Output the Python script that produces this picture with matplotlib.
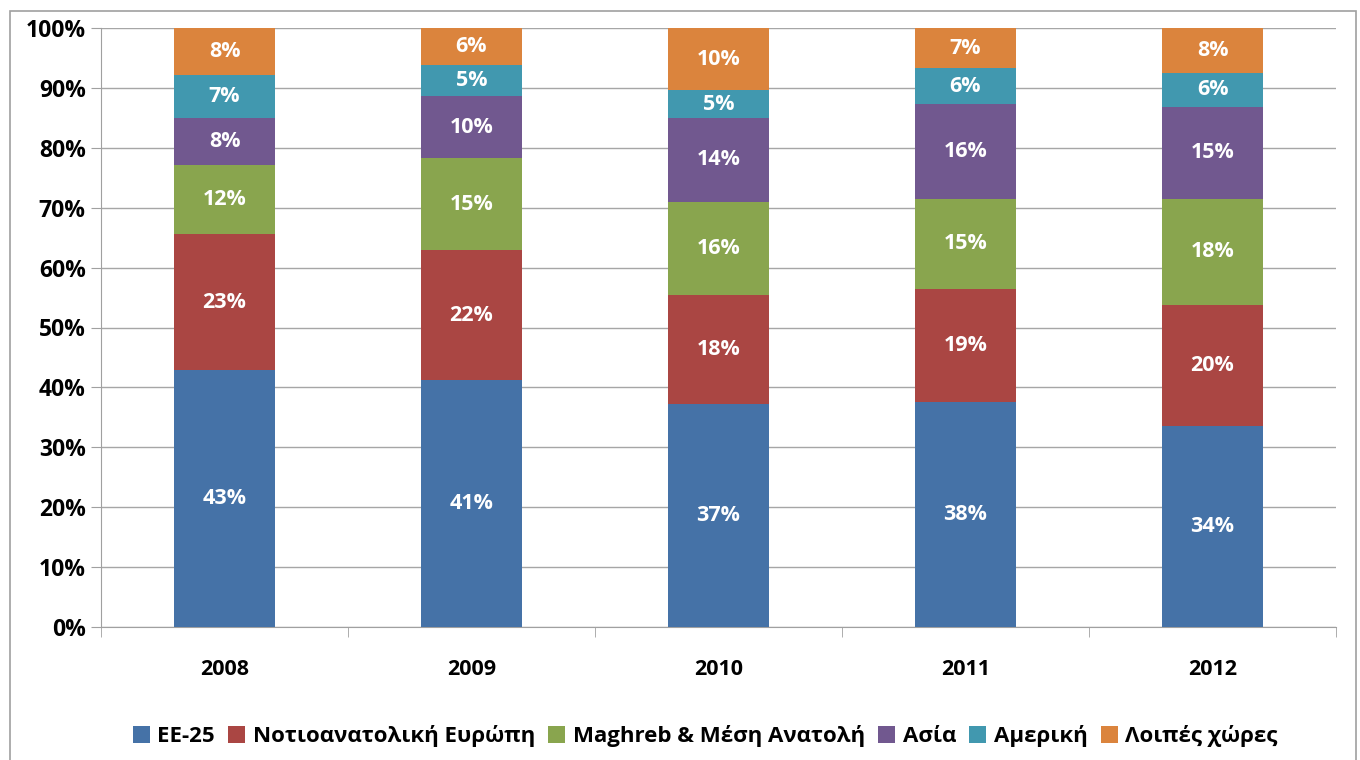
import matplotlib
matplotlib.use("Agg")
from matplotlib import pyplot as plt
from matplotlib.patches import Rectangle
import numpy as np

plt.rcParams['font.family'] = ['Open Sans', 'DejaVu Sans']

years = ["2008", "2009", "2010", "2011", "2012"]
series = ["ΕΕ-25", "Νοτιοανατολική Ευρώπη", "Maghreb & Μέση Ανατολή", "Ασία", "Αμερική", "Λοιπές χώρες"]
ee25 = [42.9, 41.2, 37.2, 37.6, 33.6]
se_europe = [22.7, 21.7, 18.2, 18.8, 20.2]
maghreb = [11.6, 15.4, 15.6, 15.1, 17.7]
asia = [7.8, 10.3, 14.0, 15.8, 15.3]
america = [7.2, 5.2, 4.6, 6.0, 5.7]
others = [7.8, 6.2, 10.4, 6.7, 7.5]
colors = ["#4572A7", "#AA4643", "#89A54E", "#71588F", "#4198AF", "#DB843D"]

data = np.array([ee25, se_europe, maghreb, asia, america, others])

fig = plt.figure(figsize=(13.6, 7.6), dpi=100)
ax = fig.add_axes([101 / 1360, 1 - 627 / 760, (1336 - 101) / 1360, (627 - 28) / 760])

x = np.arange(len(years))
bottom = np.zeros(len(years))
for i in range(len(series)):
    ax.bar(x, data[i], 0.405, bottom=bottom, color=colors[i], label=series[i], zorder=3)
    for j in range(len(years)):
        ax.text(x[j], bottom[j] + data[i][j] / 2, "%d%%" % round(data[i][j]),
                ha="center", va="center", color="white", fontsize=15.5, fontweight="bold", zorder=4)
    bottom += data[i]

ax.set_xlim(-0.5, len(years) - 0.5)
ax.set_ylim(0, 100)
ax.set_yticks(np.arange(0, 101, 10))
ax.set_yticklabels(["%d%%" % v for v in range(0, 101, 10)], fontsize=16.5, fontweight="bold")
ax.set_xticks(x)
ax.set_xticklabels(years, fontsize=15.5, fontweight="bold")
ax.set_xticks(np.arange(-0.5, len(years)), minor=True)
ax.tick_params(axis="x", which="major", length=0, pad=23)
ax.tick_params(axis="x", which="minor", length=7, color="#A0A0A0", direction="out")
ax.tick_params(axis="y", length=7, color="#A0A0A0", direction="out", pad=4)
ax.grid(axis="y", color="#A6A6A6", linewidth=1, zorder=0)
for s in ["top", "right"]:
    ax.spines[s].set_visible(False)
for s in ["left", "bottom"]:
    ax.spines[s].set_color("#A0A0A0")

# 外边框
fig.patches.append(Rectangle((10 / 1360, -0.05), (1356 - 10) / 1360, 1.05 - 11 / 760,
                             transform=fig.transFigure, fill=False, edgecolor="#A0A0A0", linewidth=1.2))

fig.legend(loc="center left", bbox_to_anchor=(124 / 1360, 1 - 736 / 760), ncol=6, frameon=False,
           prop={"size": 16, "weight": "bold"}, handlelength=0.75, handleheight=0.8,
           handletextpad=0.35, columnspacing=0.6, borderaxespad=0)

fig.savefig("out.png", dpi=100)
